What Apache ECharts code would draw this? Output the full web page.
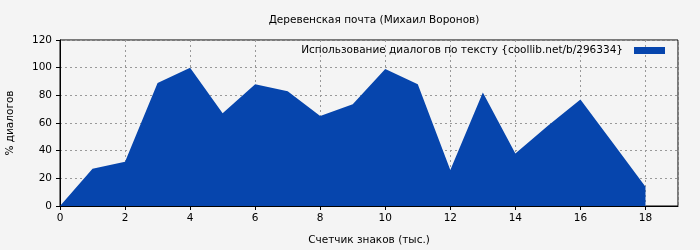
<!DOCTYPE html>
<html><head><meta charset="utf-8">
<script src="https://cdn.jsdelivr.net/npm/echarts@6/dist/echarts.min.js"></script>
<style>html,body{margin:0;padding:0;background:#f4f4f4}#c{width:700px;height:250px}</style>
</head><body><div id="c"></div>
<script>
const xValues = [0,1,2,3,4,5,6,7,8,9,10,11,12,13,14,15,16,17,18];
const usage = [0,27,32,89,100,67,88,83,65,73.5,99,88,26,82,38,58,77,45.5,14];
const seriesName = 'Использование диалогов по тексту {coollib.net/b/296334}';
const titleText = 'Деревенская почта (Михаил Воронов)';
const xName = 'Счетчик знаков (тыс.)';
const yName = '% диалогов';

const chart = echarts.init(document.getElementById('c'));
const font = 'DejaVu Sans';
const fs = 10.5;
chart.setOption({
  backgroundColor: '#f4f4f4',
  animation: false,
  title: { text: titleText, left: 369, top: 10, textAlign: 'center',
    textStyle: { fontFamily: font, fontSize: fs, fontWeight: 'normal', color: '#000' } },
  legend: { data: [seriesName], right: 30, top: 40, align: 'right', itemWidth: 31, itemHeight: 7, itemGap: 8,
    icon: 'rect', textStyle: { fontFamily: font, fontSize: fs, color: '#000', padding: [0, 6, 0, 0] } },
  grid: { left: 60, right: 22, top: 40, bottom: 44, show: true, borderColor: '#000', borderWidth: 1,
    backgroundColor: 'transparent', containLabel: false, outerBoundsMode: 'none' },
  xAxis: { type: 'value', min: 0, max: 19, interval: 2, name: xName, nameLocation: 'middle', nameGap: 29,
    nameTextStyle: { fontFamily: font, fontSize: fs, color: '#000' },
    axisLine: { show: true, lineStyle: { color: '#000' } },
    axisTick: { show: true, length: 4, lineStyle: { color: '#000' } },
    axisLabel: { fontFamily: font, fontSize: fs, color: '#000', margin: 7, showMaxLabel: false },
    splitLine: { show: true, lineStyle: { color: '#999', type: [2, 3] } } },
  yAxis: { type: 'value', min: 0, max: 120, interval: 20, name: yName, nameLocation: 'middle', nameGap: 44,
    nameTextStyle: { fontFamily: font, fontSize: fs, color: '#000' },
    axisLine: { show: true, lineStyle: { color: '#000' } },
    axisTick: { show: true, length: 4, lineStyle: { color: '#000' } },
    axisLabel: { fontFamily: font, fontSize: fs, color: '#000', margin: 8 },
    splitLine: { show: true, lineStyle: { color: '#999', type: [2, 3] } } },
  series: [{ name: seriesName, type: 'line', data: xValues.map((x, i) => [x, usage[i]]),
    symbol: 'none', color: '#0645ad', lineStyle: { width: 0 }, areaStyle: { color: '#0645ad', opacity: 1 } }]
});
</script></body></html>
